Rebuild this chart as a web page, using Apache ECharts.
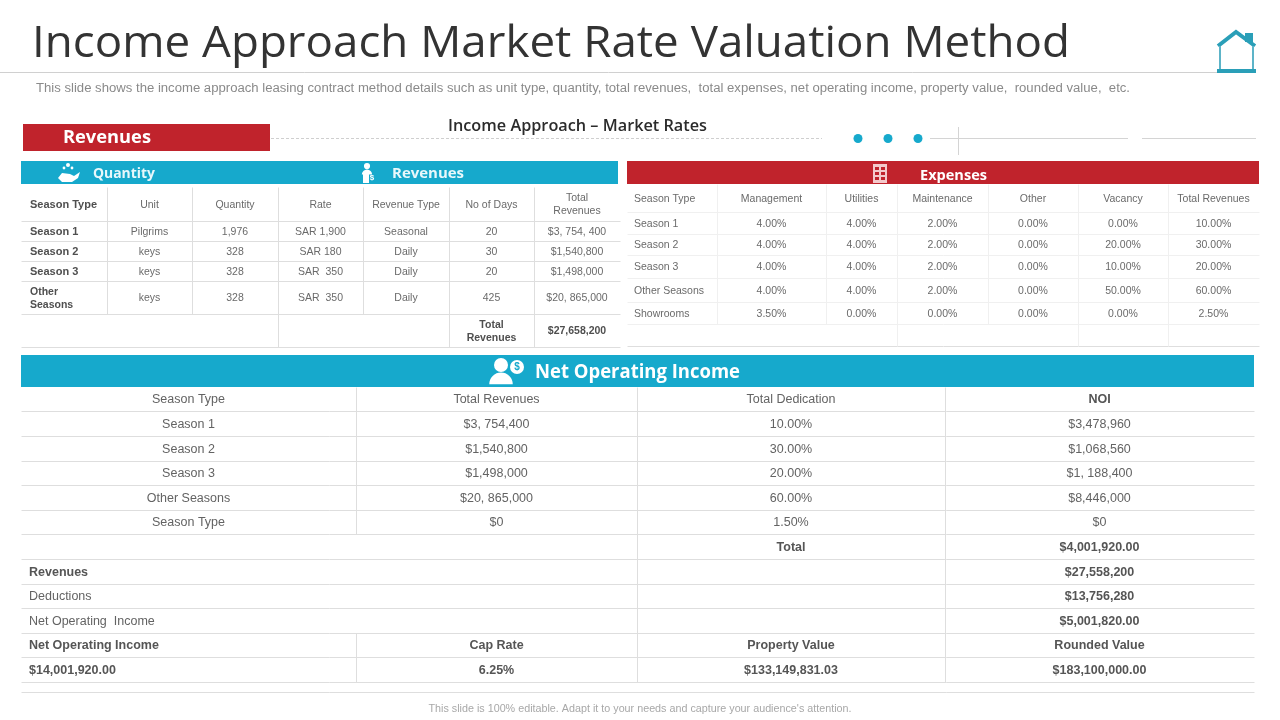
<!DOCTYPE html>
<html>
<head>
<meta charset="utf-8">
<title>Income Approach Market Rate Valuation Method</title>
<script src="https://cdn.jsdelivr.net/npm/echarts@6/dist/echarts.min.js"></script>
<style>
  html, body { margin: 0; padding: 0; background: #fff; }
  #main { width: 1280px; height: 720px; }
</style>
</head>
<body>
<div id="main"></div>
<script>
// ---- texts ----
const titleText = 'Income Approach Market Rate Valuation Method';
const subtitleText = 'This slide shows the income approach leasing contract method details such as unit type, quantity, total revenues,  total expenses, net operating income, property value,  rounded value,  etc.';
const footerText = "This slide is 100% editable. Adapt it to your needs and capture your audience's attention.";
const centerHeading = 'Income Approach – Market Rates';

// ---- revenues table ----
const revenueRows = [
  ['Season Type', 'Unit', 'Quantity', 'Rate', 'Revenue Type', 'No of Days', 'Total\nRevenues'],
  ['Season 1', 'Pilgrims', '1,976', 'SAR 1,900', 'Seasonal', '20', '$3, 754, 400'],
  ['Season 2', 'keys', '328', 'SAR 180', 'Daily', '30', '$1,540,800'],
  ['Season 3', 'keys', '328', 'SAR  350', 'Daily', '20', '$1,498,000'],
  ['Other\nSeasons', 'keys', '328', 'SAR  350', 'Daily', '425', '$20, 865,000'],
  ['', '', '', '', '', 'Total\nRevenues', '$27,658,200']
];

// ---- expenses table ----
const expenseRows = [
  ['Season Type', 'Management', 'Utilities', 'Maintenance', 'Other', 'Vacancy', 'Total Revenues'],
  ['Season 1', '4.00%', '4.00%', '2.00%', '0.00%', '0.00%', '10.00%'],
  ['Season 2', '4.00%', '4.00%', '2.00%', '0.00%', '20.00%', '30.00%'],
  ['Season 3', '4.00%', '4.00%', '2.00%', '0.00%', '10.00%', '20.00%'],
  ['Other Seasons', '4.00%', '4.00%', '2.00%', '0.00%', '50.00%', '60.00%'],
  ['Showrooms', '3.50%', '0.00%', '0.00%', '0.00%', '0.00%', '2.50%']
];

// ---- net operating income table ----
const noiRows = [
  ['Season Type', 'Total Revenues', 'Total Dedication', 'NOI'],
  ['Season 1', '$3, 754,400', '10.00%', '$3,478,960'],
  ['Season 2', '$1,540,800', '30.00%', '$1,068,560'],
  ['Season 3', '$1,498,000', '20.00%', '$1, 188,400'],
  ['Other Seasons', '$20, 865,000', '60.00%', '$8,446,000'],
  ['Season Type', '$0', '1.50%', '$0'],
  ['', '', 'Total', '$4,001,920.00'],
  ['Revenues', '', '', '$27,558,200'],
  ['Deductions', '', '', '$13,756,280'],
  ['Net Operating  Income', '', '', '$5,001,820.00'],
  ['Net Operating Income', 'Cap Rate', 'Property Value', 'Rounded Value'],
  ['$14,001,920.00', '6.25%', '$133,149,831.03', '$183,100,000.00']
];

// ---- layout, in axis units (1 unit = 1 px) ----
const BLUE = '#16a9cc', RED = '#c0232c', LINE = '#dedede', FAINT = '#f0f0f0';
const revX = [21, 107, 192, 278, 363, 449, 534, 620];
const revY = [187, 221, 241, 261, 281, 314, 347];
const expX = [627, 717, 826, 897, 988, 1078, 1168, 1259];
const expY = [184, 212, 234, 255, 278, 302, 324, 346];
const noiX = [21, 356, 637, 945, 1254];
const noiY = [387, 411, 436, 461, 485, 510, 534, 559, 584, 608, 633, 657, 682];

// [x1, y1, x2, y2, colour, width]
const rules = [];
revY.slice(1).forEach(y => rules.push([21, y, 620, y, LINE, 1]));
revX.slice(1, 7).forEach((x, i) => {
  const longCol = i === 2 || i === 4 || i === 5;
  rules.push([x, 187, x, longCol ? 347 : 314, LINE, 1]);
});
expY.slice(1).forEach((y, i) => rules.push([627, y, 1259, y, i === 6 ? LINE : FAINT, 1]));
expX.slice(1, 7).forEach((x, i) => {
  const longCol = i === 2 || i === 4 || i === 5;
  rules.push([x, 184, x, longCol ? 346 : 324, FAINT, 1]);
});
noiY.slice(1).forEach(y => rules.push([21, y, 1254, y, LINE, 1]));
rules.push([356, 387, 356, 534, LINE, 1], [356, 633, 356, 682, LINE, 1]);
rules.push([637, 387, 637, 682, LINE, 1], [945, 387, 945, 682, LINE, 1]);
rules.push([21, 692, 1254, 692, LINE, 1]);

function cellStyle(table, r, c) {
  if (table === 'rev') {
    const bold = c === 0 || r === 5;
    return {
      x: c === 0 ? 'l' : 'c', size: bold && r < 4 ? 11 : 10.5,
      weight: bold ? 'bold' : 'normal', color: bold ? '#4f4f4f' : '#6a6a6a'
    };
  }
  if (table === 'exp') {
    return { x: c === 0 ? 'l' : 'c', size: 10.5, weight: 'normal', color: '#6a6a6a' };
  }
  const boldRow = r === 7 || r >= 10;
  const bold = boldRow || (c === 3 && r >= 6) || (r === 6 && c === 2) || (r === 0 && c === 3);
  const left = c === 0 && r >= 7;
  return { x: left ? 'l' : 'c', size: 12.5, weight: bold ? 'bold' : 'normal', color: bold ? '#555' : '#636363' };
}

// one custom series per table, each cell placed through the axes
function tableSeries(table, rows, xs, ys, pad) {
  const data = [];
  rows.forEach((row, r) => row.forEach((txt, c) => {
    if (txt) data.push([xs[c], xs[c + 1], (ys[r] + ys[r + 1]) / 2, r, c]);
  }));
  return {
    type: 'custom', silent: true, animation: false, clip: false,
    encode: { x: [0, 1], y: 2 },
    data: data,
    renderItem: function (params, api) {
      const r = api.value(3), c = api.value(4);
      const st = cellStyle(table, r, c);
      const y = api.coord([0, api.value(2) + 1])[1];
      const left = api.coord([api.value(0), 0])[0];
      const right = api.coord([api.value(1), 0])[0];
      return {
        type: 'text',
        style: {
          x: st.x === 'l' ? left + pad : (left + right) / 2, y: y,
          text: rows[r][c], align: st.x === 'l' ? 'left' : 'center', verticalAlign: 'middle',
          font: st.weight + ' ' + st.size + 'px "Liberation Sans"', fill: st.color, lineHeight: 13
        }
      };
    }
  };
}

const ruleSeries = {
  type: 'custom', silent: true, animation: false, clip: false,
  encode: { x: [0, 2], y: [1, 3] },
  data: rules,
  renderItem: function (params, api) {
    const a = api.coord([api.value(0), api.value(1)]);
    const b = api.coord([api.value(2), api.value(3)]);
    // half pixel offset keeps the hairlines one pixel wide
    return {
      type: 'line',
      shape: { x1: a[0] + 0.5, y1: a[1] + 0.5, x2: b[0] + 0.5, y2: b[1] + 0.5 },
      style: { stroke: rules[params.dataIndex][4], lineWidth: rules[params.dataIndex][5] }
    };
  }
};

// ---- slide furniture ----
const measureCtx = document.createElement('canvas').getContext('2d');
function rect(x, y, w, h, fill) { return { type: 'rect', shape: { x, y, width: w, height: h }, style: { fill } }; }
function hline(x1, y1, x2, y2, stroke, lineWidth, dash) {
  return { type: 'line', shape: { x1, y1, x2, y2 }, style: { stroke, lineWidth: lineWidth || 1, lineDash: dash } };
}
// text stretched to the width it has on the slide
function label(x, y, text, font, fill, align, targetWidth) {
  measureCtx.font = font;
  const scaleX = targetWidth ? targetWidth / measureCtx.measureText(text).width : 1;
  return {
    type: 'text', x: x, y: y, scaleX: scaleX,
    style: { x: 0, y: 0, text, font, fill, align: align || 'left', verticalAlign: 'middle' }
  };
}
function dot(x, y, r, fill) { return { type: 'circle', shape: { cx: x, cy: y, r }, style: { fill } }; }
function poly(points, fill) { return { type: 'polygon', shape: { points }, style: { fill } }; }
function person(cx, top, size, fill) {
  return [
    dot(cx, top + size * 0.28, size * 0.28, fill),
    { type: 'sector', shape: { cx, cy: top + size * 1.05, r: size * 0.47, startAngle: Math.PI, endAngle: 2 * Math.PI }, style: { fill } }
  ];
}

const HEAD = '"Open Sans"';
const houseColor = '#2a9fb8';

const furniture = [
  label(32, 45, titleText, '400 43px ' + HEAD, '#333', 'left', 1038),
  hline(0, 72.5, 1217, 72.5, '#d0d0d0'),
  // house icon
  { type: 'polyline', shape: { points: [[1218, 46], [1236, 32], [1255, 46]] }, style: { stroke: houseColor, lineWidth: 4, fill: 'none' } },
  rect(1245, 33, 8, 9, houseColor),
  rect(1219, 46, 2, 24, '#5db4c8'),
  rect(1252, 46, 2, 24, '#5db4c8'),
  rect(1217, 69, 39, 4, houseColor),
  label(36, 89, subtitleText, '12px "Liberation Sans"', '#8a8a8a', 'left', 1094),

  rect(23, 124, 247, 27, RED),
  label(63, 138, 'Revenues', '700 18px ' + HEAD, '#fff', 'left', 88),
  label(448, 126, centerHeading, '600 16px ' + HEAD, '#2b2b2b', 'left', 259),
  hline(271, 138.5, 822, 138.5, '#cfcfcf', 1, [3, 2]),
  dot(858, 138.5, 4.5, BLUE), dot(888, 138.5, 4.5, BLUE), dot(918, 138.5, 4.5, BLUE),
  hline(930, 138.5, 1128, 138.5, '#d4d4d4'),
  hline(958.5, 127, 958.5, 155, '#d4d4d4'),
  hline(1142, 138.5, 1256, 138.5, '#d4d4d4'),

  rect(21, 161, 597, 23, BLUE),
  poly([[58, 178], [62, 173], [70, 174], [74, 176], [80, 172], [78, 178], [72, 182], [62, 182]], '#fff'),
  dot(68, 165, 2, '#fff'), dot(64, 168, 1.4, '#fff'), dot(72, 168, 1.4, '#fff'),
  label(93, 173.5, 'Quantity', '700 15px ' + HEAD, '#e8f8fb', 'left', 62),
  ...person(367, 163, 11, '#fff'),
  rect(363, 173, 6, 10, '#fff'),
  label(372, 178, '$', 'bold 8px "Liberation Sans"', '#fff', 'center'),
  label(392, 173.5, 'Revenues', '700 15px ' + HEAD, '#e8f8fb', 'left', 72),

  rect(627, 161, 632, 23, RED),
  rect(873, 164, 14, 19, '#f3c9cb'), rect(875, 167, 4, 3, RED), rect(881, 167, 4, 3, RED),
  rect(875, 172, 4, 3, RED), rect(881, 172, 4, 3, RED), rect(875, 177, 4, 3, RED), rect(881, 177, 4, 3, RED),
  label(920, 175.5, 'Expenses', '700 15px ' + HEAD, '#fff', 'left', 67),

  rect(21, 355, 1233, 32, BLUE),
  ...person(501, 358, 25, '#fff'),
  dot(517, 367, 7, '#fff'), label(517, 367.5, '$', 'bold 10px "Liberation Sans"', BLUE, 'center'),
  label(535, 372.5, 'Net Operating Income', '700 20px ' + HEAD, '#fff', 'left', 205),

  label(640, 709, footerText, '10px "Liberation Sans"', '#a8a8a8', 'center', 423)
];

const chart = echarts.init(document.getElementById('main'), null, { renderer: 'canvas' });
chart.setOption({
  animation: false,
  backgroundColor: '#fff',
  grid: { left: 0, right: 0, top: 0, bottom: 0 },
  xAxis: { type: 'value', min: 0, max: 1280, show: false },
  yAxis: { type: 'value', min: 0, max: 720, inverse: true, show: false },
  tooltip: { show: false },
  graphic: { elements: furniture.map(e => Object.assign({ silent: true }, e)) },
  series: [
    ruleSeries,
    tableSeries('rev', revenueRows, revX, revY, 9),
    tableSeries('exp', expenseRows, expX, expY, 7),
    tableSeries('noi', noiRows, noiX, noiY, 8)
  ]
});
</script>
</body>
</html>
